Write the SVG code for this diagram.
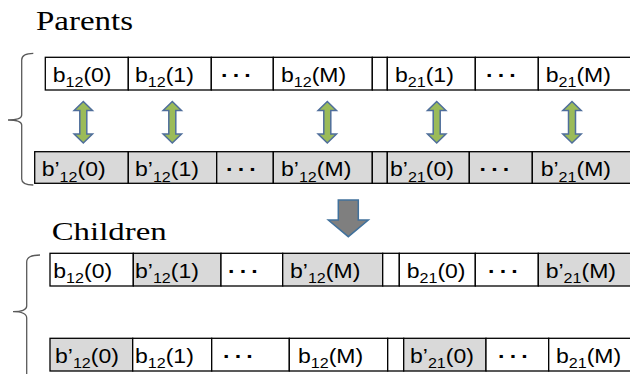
<svg xmlns="http://www.w3.org/2000/svg" width="630" height="374" viewBox="0 0 630 374">
<defs>
<style>
.c{stroke:#000;stroke-width:1.3}
.w{fill:#fff}
.g{fill:#d9d9d9}
.t{font-family:"Liberation Sans",Arial,sans-serif;font-size:20px;fill:#000}
.s{font-size:14px}
.d{font-weight:bold;letter-spacing:3.5px}
.ttl{font-family:"Liberation Serif","Times New Roman",serif;fill:#000}
.br{fill:none;stroke:#595959;stroke-width:1.3}
.dbl{fill:#9bbb59;stroke:#4f6e9b;stroke-width:1.5}
.down{fill:#7f7f7f;stroke:#41719c;stroke-width:1.5}
</style>
<path id="dbl" class="dbl" d="M0,0 L9.2,9 L3.5,9 L3.5,32.5 L9.2,32.5 L0,41.5 L-9.2,32.5 L-3.5,32.5 L-3.5,9 L-9.2,9 Z"/>
</defs>
<rect width="630" height="374" fill="#fff"/>

<text class="ttl" x="36" y="30" font-size="27" textLength="97" lengthAdjust="spacingAndGlyphs">Parents</text>
<text class="ttl" x="51.7" y="240" font-size="26" textLength="115" lengthAdjust="spacingAndGlyphs">Children</text>

<g id="brace-parents"><path class="br" d="M33.3,53.3 Q21.7,53.3 21.7,60 L21.7,115 Q21.7,120 8,120 Q21.7,120 21.7,125 L21.7,179 Q21.7,185 33.3,185"/></g>
<g id="brace-children"><path class="br" d="M40,255 Q26.7,255 26.7,262 L26.7,306 Q26.7,311.7 13,311.7 Q26.7,311.7 26.7,318 L26.7,376"/></g>

<!-- Row 1: parent 1 -->
<g id="p1">
<g id="p1-c0"><rect class="c w" x="45.3" y="57.3" width="83" height="32.7"/><text class="t" transform="translate(52.7,81.7) scale(1.15,1)">b<tspan class="s" dy="5.6">12</tspan><tspan dy="-5.6">(0)</tspan></text></g>
<g id="p1-c1"><rect class="c w" x="128.3" y="57.3" width="83" height="32.7"/><text class="t" transform="translate(135,81.7) scale(1.15,1)">b<tspan class="s" dy="5.6">12</tspan><tspan dy="-5.6">(1)</tspan></text></g>
<g id="p1-c2"><rect class="c w" x="211.3" y="57.3" width="62" height="32.7"/><text class="t d" transform="translate(221,81.7) scale(1.15,1)">···</text></g>
<g id="p1-c3"><rect class="c w" x="273.3" y="57.3" width="99" height="32.7"/><text class="t" transform="translate(281,81.7) scale(1.15,1)">b<tspan class="s" dy="5.6">12</tspan><tspan dy="-5.6">(M)</tspan></text></g>
<g id="p1-c4"><rect class="c w" x="372.3" y="57.3" width="15" height="32.7"/></g>
<g id="p1-c5"><rect class="c w" x="387.3" y="57.3" width="88" height="32.7"/><text class="t" transform="translate(395,81.7) scale(1.15,1)">b<tspan class="s" dy="5.6">21</tspan><tspan dy="-5.6">(1)</tspan></text></g>
<g id="p1-c6"><rect class="c w" x="475.3" y="57.3" width="63" height="32.7"/><text class="t d" transform="translate(486,81.7) scale(1.15,1)">···</text></g>
<g id="p1-c7"><rect class="c w" x="538.3" y="57.3" width="95" height="32.7"/><text class="t" transform="translate(545.7,81.7) scale(1.15,1)">b<tspan class="s" dy="5.6">21</tspan><tspan dy="-5.6">(M)</tspan></text></g>
</g>

<!-- Row 2: parent 2 -->
<g id="p2">
<g id="p2-c0"><rect class="c g" x="34.7" y="151.7" width="93.6" height="31.6"/><text class="t" transform="translate(41.7,176.2) scale(1.15,1)">b’<tspan class="s" dy="5.6">12</tspan><tspan dy="-5.6">(0)</tspan></text></g>
<g id="p2-c1"><rect class="c g" x="128.3" y="151.7" width="88.4" height="31.6"/><text class="t" transform="translate(135,176.2) scale(1.15,1)">b’<tspan class="s" dy="5.6">12</tspan><tspan dy="-5.6">(1)</tspan></text></g>
<g id="p2-c2"><rect class="c g" x="216.7" y="151.7" width="56.6" height="31.6"/><text class="t d" transform="translate(226,176.2) scale(1.15,1)">···</text></g>
<g id="p2-c3"><rect class="c g" x="273.3" y="151.7" width="99" height="31.6"/><text class="t" transform="translate(281,176.2) scale(1.15,1)">b’<tspan class="s" dy="5.6">12</tspan><tspan dy="-5.6">(M)</tspan></text></g>
<g id="p2-c4"><rect class="c g" x="372.3" y="151.7" width="15" height="31.6"/></g>
<g id="p2-c5"><rect class="c g" x="387.3" y="151.7" width="82" height="31.6"/><text class="t" transform="translate(390,176.2) scale(1.15,1)">b’<tspan class="s" dy="5.6">21</tspan><tspan dy="-5.6">(0)</tspan></text></g>
<g id="p2-c6"><rect class="c g" x="469.3" y="151.7" width="63" height="31.6"/><text class="t d" transform="translate(479.5,176.2) scale(1.15,1)">···</text></g>
<g id="p2-c7"><rect class="c g" x="532.3" y="151.7" width="101" height="31.6"/><text class="t" transform="translate(540.7,176.2) scale(1.15,1)">b’<tspan class="s" dy="5.6">21</tspan><tspan dy="-5.6">(M)</tspan></text></g>
</g>

<!-- Row 3: child 1 -->
<g id="c1">
<g id="c1-c0"><rect class="c w" x="50" y="253.3" width="83.3" height="32.7"/><text class="t" transform="translate(53.3,277.8) scale(1.15,1)">b<tspan class="s" dy="5.6">12</tspan><tspan dy="-5.6">(0)</tspan></text></g>
<g id="c1-c1"><rect class="c g" x="133.3" y="253.3" width="87.7" height="32.7"/><text class="t" transform="translate(135,277.8) scale(1.15,1)">b’<tspan class="s" dy="5.6">12</tspan><tspan dy="-5.6">(1)</tspan></text></g>
<g id="c1-c2"><rect class="c w" x="221" y="253.3" width="61.7" height="32.7"/><text class="t d" transform="translate(228,277.8) scale(1.15,1)">···</text></g>
<g id="c1-c3"><rect class="c g" x="282.7" y="253.3" width="100" height="32.7"/><text class="t" transform="translate(290,277.8) scale(1.15,1)">b’<tspan class="s" dy="5.6">12</tspan><tspan dy="-5.6">(M)</tspan></text></g>
<g id="c1-c4"><rect class="c w" x="382.7" y="253.3" width="16.6" height="32.7"/></g>
<g id="c1-c5"><rect class="c w" x="399.3" y="253.3" width="76" height="32.7"/><text class="t" transform="translate(406.7,277.8) scale(1.15,1)">b<tspan class="s" dy="5.6">21</tspan><tspan dy="-5.6">(0)</tspan></text></g>
<g id="c1-c6"><rect class="c w" x="475.3" y="253.3" width="63" height="32.7"/><text class="t d" transform="translate(488,277.8) scale(1.15,1)">···</text></g>
<g id="c1-c7"><rect class="c g" x="538.3" y="253.3" width="95" height="32.7"/><text class="t" transform="translate(545.7,277.8) scale(1.15,1)">b’<tspan class="s" dy="5.6">21</tspan><tspan dy="-5.6">(M)</tspan></text></g>
</g>

<!-- Row 4: child 2 -->
<g id="c2">
<g id="c2-c0"><rect class="c g" x="50" y="338.3" width="82.7" height="32.7"/><text class="t" transform="translate(55,362.8) scale(1.15,1)">b’<tspan class="s" dy="5.6">12</tspan><tspan dy="-5.6">(0)</tspan></text></g>
<g id="c2-c1"><rect class="c w" x="132.7" y="338.3" width="79" height="32.7"/><text class="t" transform="translate(135,362.8) scale(1.15,1)">b<tspan class="s" dy="5.6">12</tspan><tspan dy="-5.6">(1)</tspan></text></g>
<g id="c2-c2"><rect class="c w" x="211.7" y="338.3" width="77.6" height="32.7"/><text class="t d" transform="translate(223,362.8) scale(1.15,1)">···</text></g>
<g id="c2-c3"><rect class="c w" x="289.3" y="338.3" width="98.4" height="32.7"/><text class="t" transform="translate(298,362.8) scale(1.15,1)">b<tspan class="s" dy="5.6">12</tspan><tspan dy="-5.6">(M)</tspan></text></g>
<g id="c2-c4"><rect class="c w" x="387.7" y="338.3" width="16" height="32.7"/></g>
<g id="c2-c5"><rect class="c g" x="403.7" y="338.3" width="82.3" height="32.7"/><text class="t" transform="translate(410,362.8) scale(1.15,1)">b’<tspan class="s" dy="5.6">21</tspan><tspan dy="-5.6">(0)</tspan></text></g>
<g id="c2-c6"><rect class="c w" x="486" y="338.3" width="62.7" height="32.7"/><text class="t d" transform="translate(498,362.8) scale(1.15,1)">···</text></g>
<g id="c2-c7"><rect class="c w" x="548.7" y="338.3" width="85" height="32.7"/><text class="t" transform="translate(556,362.8) scale(1.15,1)">b<tspan class="s" dy="5.6">21</tspan><tspan dy="-5.6">(M)</tspan></text></g>
</g>

<g id="connectors">
<use href="#dbl" x="83.3" y="101.5"/>
<use href="#dbl" x="172.3" y="101.5"/>
<use href="#dbl" x="327.3" y="101.5"/>
<use href="#dbl" x="436.7" y="101.5"/>
<use href="#dbl" x="572" y="101.5"/>
<path class="down" d="M338.3,200 H358.3 V220 H368.3 L348.3,236.7 L328.3,220 H338.3 Z"/>
</g>
</svg>
